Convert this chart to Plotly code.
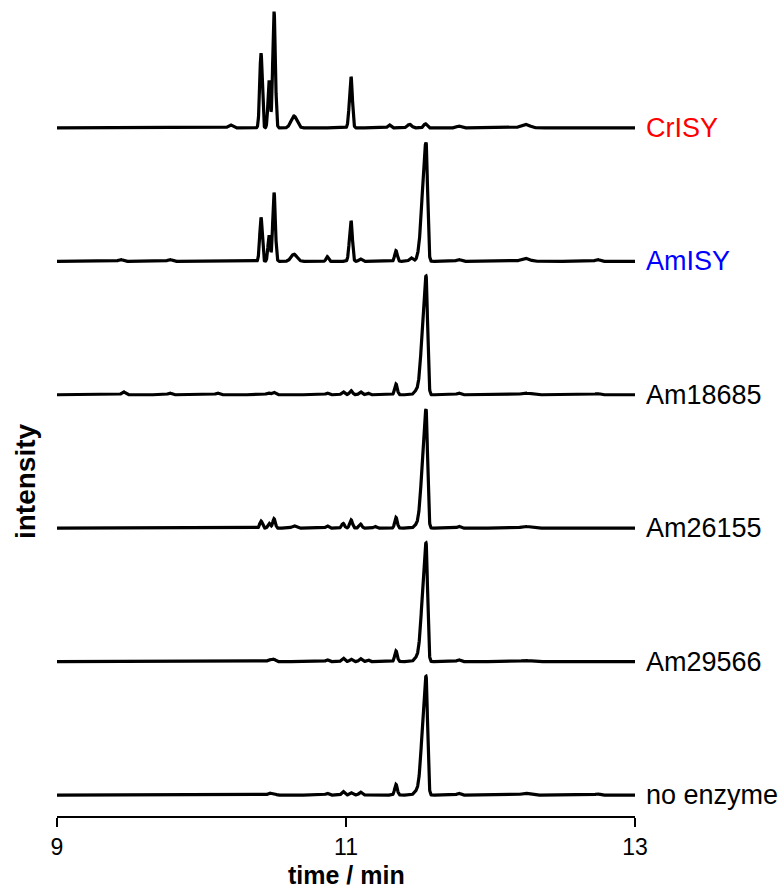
import numpy as np
import plotly.graph_objects as go

# Retention time axis (min)
time_min = np.linspace(9.0, 13.0, 4001)

# Sample names, listed top to bottom
samples = ["CrISY", "AmISY", "Am18685", "Am26155", "Am29566", "no enzyme"]
label_colors = ["#ff0000", "#0000ff", "#000000", "#000000", "#000000", "#000000"]

# Peak tables: retention time (min), relative intensity (main product = 100),
# leading and trailing peak widths (min)
crisy_rt = [10.20, 10.412, 10.468, 10.502, 10.64, 11.035, 11.30, 11.44, 11.55, 11.78, 12.24]
crisy_h = [2.5, 63, 40, 98, 10, 43, 2.5, 3, 3.5, 1.5, 3]
crisy_wl = [0.015, 0.009, 0.008, 0.009, 0.02, 0.011, 0.01, 0.015, 0.012, 0.015, 0.03]
crisy_wr = [0.015, 0.008, 0.007, 0.009, 0.02, 0.009, 0.01, 0.015, 0.010, 0.015, 0.03]

amisy_rt = [9.44, 9.78, 10.412, 10.468, 10.502, 10.64, 10.87, 11.035, 11.10, 11.346, 11.45, 11.554, 11.78, 12.24, 12.74]
amisy_h = [1.5, 1.5, 37, 22, 58, 6, 4, 34, 2, 9, 3, 100, 1.5, 2.5, 1.5]
amisy_wl = [0.015, 0.015, 0.009, 0.008, 0.009, 0.02, 0.008, 0.011, 0.01, 0.009, 0.012, 0.025, 0.015, 0.03, 0.015]
amisy_wr = [0.015, 0.015, 0.008, 0.007, 0.009, 0.02, 0.008, 0.009, 0.01, 0.009, 0.012, 0.010, 0.015, 0.03, 0.015]

am18685_rt = [9.46, 9.78, 10.11, 10.46, 10.50, 10.87, 10.98, 11.035, 11.10, 11.15, 11.346, 11.48, 11.554, 11.78, 12.24, 12.74]
am18685_h = [2.5, 1.5, 1.5, 1.5, 2, 1.5, 2.5, 3.5, 2.5, 1.5, 9, 2, 100, 1.5, 1.5, 1]
am18685_wl = [0.012, 0.012, 0.012, 0.012, 0.012, 0.01, 0.01, 0.01, 0.01, 0.01, 0.009, 0.012, 0.025, 0.012, 0.03, 0.015]
am18685_wr = [0.012, 0.012, 0.012, 0.012, 0.012, 0.01, 0.01, 0.01, 0.01, 0.01, 0.009, 0.012, 0.010, 0.012, 0.03, 0.015]

am26155_rt = [10.412, 10.468, 10.502, 10.64, 10.87, 10.98, 11.035, 11.10, 11.20, 11.346, 11.48, 11.554, 11.78, 12.24]
am26155_h = [6, 4, 8, 2, 2, 4, 7, 3.5, 1.5, 9, 1.5, 100, 1.5, 1.5]
am26155_wl = [0.009, 0.009, 0.009, 0.015, 0.01, 0.01, 0.01, 0.01, 0.01, 0.009, 0.012, 0.025, 0.012, 0.03]
am26155_wr = [0.009, 0.009, 0.009, 0.015, 0.01, 0.01, 0.01, 0.01, 0.01, 0.009, 0.012, 0.010, 0.012, 0.03]

am29566_rt = [10.47, 10.50, 10.87, 10.98, 11.035, 11.10, 11.15, 11.346, 11.48, 11.554, 11.78, 12.24]
am29566_h = [1.5, 2, 1.5, 3, 2, 2.5, 1.5, 9, 2, 100, 1.5, 1]
am29566_wl = [0.012, 0.012, 0.01, 0.01, 0.01, 0.01, 0.01, 0.009, 0.012, 0.025, 0.012, 0.03]
am29566_wr = [0.012, 0.012, 0.01, 0.01, 0.01, 0.01, 0.01, 0.009, 0.012, 0.010, 0.012, 0.03]

noenz_rt = [10.47, 10.50, 10.87, 10.98, 11.035, 11.10, 11.346, 11.48, 11.554, 11.78, 12.24, 12.74]
noenz_h = [1.5, 1.5, 1.5, 3, 2, 2.5, 9, 2, 100, 1.5, 1.5, 1]
noenz_wl = [0.012, 0.012, 0.01, 0.01, 0.01, 0.01, 0.009, 0.012, 0.025, 0.012, 0.03, 0.015]
noenz_wr = [0.012, 0.012, 0.01, 0.01, 0.01, 0.01, 0.009, 0.012, 0.010, 0.012, 0.03, 0.015]

peak_tables = [
    (crisy_rt, crisy_h, crisy_wl, crisy_wr),
    (amisy_rt, amisy_h, amisy_wl, amisy_wr),
    (am18685_rt, am18685_h, am18685_wl, am18685_wr),
    (am26155_rt, am26155_h, am26155_wl, am26155_wr),
    (am29566_rt, am29566_h, am29566_wl, am29566_wr),
    (noenz_rt, noenz_h, noenz_wl, noenz_wr),
]

# x-axis ticks
tick_values = [9, 11, 13]
tick_labels = ["9", "11", "13"]

# vertical spacing between stacked chromatograms (relative intensity units)
stack_step = 112.4

FONT = "Liberation Sans, Arial, sans-serif"


def chromatogram(rts, hs, wls, wrs):
    """Sum of bi-Gaussian peaks built from a peak table."""
    y = np.zeros_like(time_min)
    for rt, h, wl, wr in zip(rts, hs, wls, wrs):
        w = np.where(time_min < rt, wl, wr)
        y += h * np.exp(-0.5 * ((time_min - rt) / w) ** 2)
    return y


fig = go.Figure()
n = len(samples)
for i, (name, table) in enumerate(zip(samples, peak_tables)):
    offset = (n - 1 - i) * stack_step
    fig.add_trace(go.Scatter(
        x=time_min, y=chromatogram(*table) + offset,
        mode="lines", line=dict(color="black", width=3.2),
        name=name, showlegend=False, hoverinfo="skip",
    ))
    fig.add_annotation(
        x=13.0, y=offset, xref="x", yref="y", text=name,
        showarrow=False, xanchor="left", yanchor="middle", xshift=9,
        font=dict(family=FONT, size=27, color=label_colors[i]),
    )

# y-axis title
fig.add_annotation(
    x=0, xref="paper", xanchor="center", xshift=-32,
    y=0.412, yref="paper", yanchor="middle", textangle=-90, text="<b>intensity</b>",
    showarrow=False, font=dict(family=FONT, size=28, color="black"),
)

# x-axis title
fig.add_annotation(
    x=0.5, xref="paper", xanchor="center",
    y=0, yref="paper", yanchor="top", yshift=-44, borderpad=0,
    text="<b>time / min</b>", showarrow=False,
    font=dict(family=FONT, size=25, color="black"),
)

fig.update_layout(
    width=783, height=890,
    margin=dict(l=57, r=148, t=3, b=74),
    plot_bgcolor="white", paper_bgcolor="white",
    xaxis=dict(
        range=[9, 13], tickvals=tick_values, ticktext=tick_labels,
        showline=True, linecolor="black", linewidth=2.2,
        ticks="outside", ticklen=9, tickwidth=2.2, tickcolor="black",
        showgrid=False, zeroline=False, automargin=False,
        tickfont=dict(family=FONT, size=23, color="black"),
    ),
    yaxis=dict(
        range=[-17.65, 667.2], visible=False, showgrid=False, zeroline=False,
    ),
)

fig.write_html("out.html")
